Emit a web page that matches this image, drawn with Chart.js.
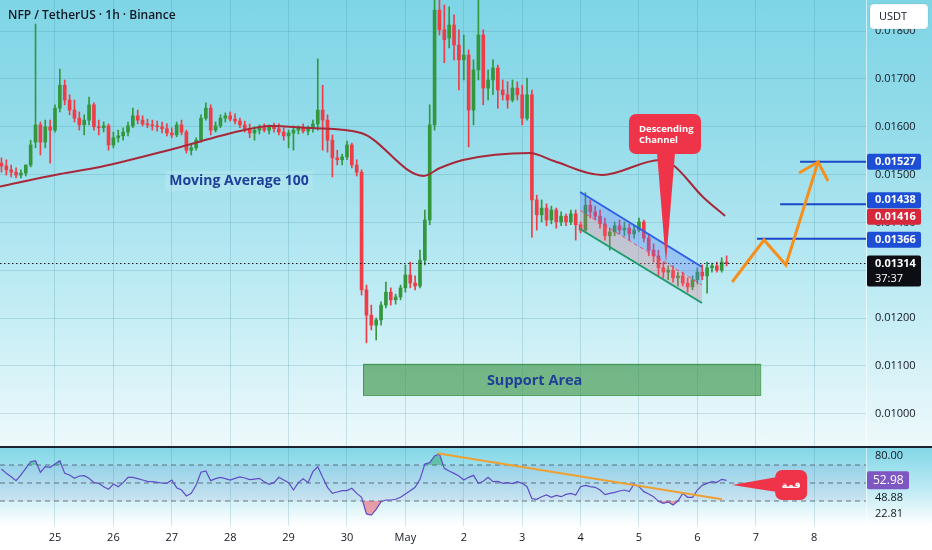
<!DOCTYPE html>
<html>
<head>
<meta charset="utf-8">
<title>NFP / TetherUS 1h</title>
<script src="https://cdn.jsdelivr.net/npm/chart.js@4.4.1/dist/chart.umd.min.js"></script>
<style>
  html, body { margin: 0; padding: 0; background: #ffffff; }
  #page { position: relative; width: 932px; height: 550px; overflow: hidden; }
  #pricePane { position: absolute; left: 0; top: 0; width: 932px; height: 446px;
    background: linear-gradient(180deg, #7ed5e6 0%, #95dcea 30%, #c4edf5 70%, #eef9fb 100%); }
  #rsiPane { position: absolute; left: 0; top: 446px; width: 932px; height: 104px; box-sizing: border-box;
    border-top: 2px solid #1c2230;
    background: linear-gradient(180deg, #82d7e8 0%, #bdeaf3 40%, #ffffff 76%, #ffffff 100%); }
  canvas { display: block; }
</style>
</head>
<body>
<div id="page">
  <div id="pricePane"><canvas id="priceChart" width="932" height="446"></canvas></div>
  <div id="rsiPane"><canvas id="rsiChart" width="932" height="102"></canvas></div>
</div>
<script>
Chart.defaults.font.family = "'Open Sans', 'DejaVu Sans', sans-serif";
Chart.defaults.font.size = 11;
Chart.defaults.color = '#131722';

// candles are 2h buckets, hour 0 = 25 Apr 00:00
var startHour = -22;
var stepHours = 2;

var opens = [0.01524,0.01518,0.01510,0.01505,0.01499,0.01503,0.01520,0.01568,0.01604,0.01568,
  0.01600,0.01593,0.01639,0.01687,0.01656,0.01635,0.01618,0.01604,0.01614,0.01646,
  0.01600,0.01598,0.01602,0.01562,0.01577,0.01581,0.01589,0.01602,0.01623,0.01614,
  0.01606,0.01604,0.01602,0.01600,0.01596,0.01587,0.01583,0.01604,0.01589,0.01551,
  0.01556,0.01572,0.01618,0.01639,0.01593,0.01602,0.01618,0.01623,0.01616,0.01612,
  0.01604,0.01596,0.01587,0.01593,0.01598,0.01593,0.01600,0.01596,0.01589,0.01581,
  0.01587,0.01593,0.01598,0.01591,0.01598,0.01606,0.01635,0.01614,0.01572,0.01535,
  0.01531,0.01537,0.01562,0.01520,0.01505,0.01259,0.01206,0.01185,0.01196,0.01227,
  0.01254,0.01238,0.01244,0.01263,0.01290,0.01273,0.01267,0.01321,0.01405,0.01604,
  0.01844,0.01803,0.01786,0.01813,0.01771,0.01740,0.01750,0.01635,0.01719,0.01792,
  0.01681,0.01698,0.01723,0.01677,0.01667,0.01656,0.01681,0.01667,0.01618,0.01667,
  0.01447,0.01416,0.01430,0.01405,0.01426,0.01401,0.01413,0.01401,0.01418,0.01395,
  0.01384,0.01436,0.01422,0.01413,0.01397,0.01372,0.01380,0.01393,0.01384,0.01388,
  0.01376,0.01384,0.01401,0.01367,0.01342,0.01330,0.01305,0.01296,0.01300,0.01284,
  0.01288,0.01273,0.01265,0.01280,0.01296,0.01288,0.01305,0.01309,0.01300,0.01317];
var highs = [0.01535,0.01531,0.01520,0.01514,0.01510,0.01520,0.01572,0.01815,0.01610,0.01614,
  0.01614,0.01646,0.01721,0.01698,0.01667,0.01656,0.01631,0.01625,0.01662,0.01650,
  0.01614,0.01610,0.01606,0.01589,0.01593,0.01598,0.01610,0.01639,0.01635,0.01623,
  0.01616,0.01614,0.01612,0.01610,0.01606,0.01598,0.01610,0.01614,0.01593,0.01562,
  0.01577,0.01625,0.01650,0.01646,0.01610,0.01625,0.01629,0.01631,0.01627,0.01618,
  0.01612,0.01606,0.01600,0.01604,0.01606,0.01604,0.01608,0.01606,0.01598,0.01593,
  0.01602,0.01602,0.01606,0.01602,0.01614,0.01742,0.01687,0.01625,0.01583,0.01551,
  0.01543,0.01570,0.01566,0.01531,0.01510,0.01269,0.01227,0.01200,0.01234,0.01275,
  0.01263,0.01250,0.01269,0.01311,0.01317,0.01288,0.01342,0.01426,0.01646,0.01897,
  0.01886,0.01855,0.01851,0.01834,0.01803,0.01792,0.01761,0.01740,0.01865,0.01803,
  0.01719,0.01740,0.01729,0.01698,0.01694,0.01698,0.01694,0.01687,0.01702,0.01677,
  0.01457,0.01447,0.01439,0.01434,0.01430,0.01422,0.01418,0.01426,0.01426,0.01401,
  0.01462,0.01447,0.01434,0.01426,0.01409,0.01388,0.01401,0.01405,0.01401,0.01397,
  0.01393,0.01409,0.01405,0.01376,0.01355,0.01342,0.01317,0.01309,0.01309,0.01296,
  0.01296,0.01284,0.01288,0.01305,0.01311,0.01317,0.01315,0.01317,0.01326,0.01330];
var lows = [0.01505,0.01499,0.01495,0.01493,0.01493,0.01497,0.01516,0.01556,0.01541,0.01556,
  0.01524,0.01589,0.01631,0.01646,0.01625,0.01610,0.01593,0.01583,0.01604,0.01593,
  0.01583,0.01589,0.01551,0.01556,0.01568,0.01572,0.01581,0.01598,0.01606,0.01602,
  0.01598,0.01593,0.01591,0.01587,0.01581,0.01577,0.01579,0.01583,0.01545,0.01541,
  0.01551,0.01568,0.01614,0.01583,0.01589,0.01598,0.01610,0.01612,0.01606,0.01598,
  0.01589,0.01577,0.01572,0.01585,0.01589,0.01585,0.01589,0.01583,0.01572,0.01556,
  0.01551,0.01585,0.01587,0.01583,0.01589,0.01593,0.01551,0.01547,0.01495,0.01520,
  0.01520,0.01531,0.01514,0.01497,0.01248,0.01148,0.01175,0.01154,0.01185,0.01221,
  0.01227,0.01229,0.01238,0.01254,0.01263,0.01259,0.01263,0.01311,0.01395,0.01593,
  0.01792,0.01734,0.01765,0.01740,0.01677,0.01698,0.01558,0.01604,0.01698,0.01646,
  0.01656,0.01667,0.01639,0.01656,0.01639,0.01652,0.01656,0.01604,0.01614,0.01369,
  0.01384,0.01401,0.01393,0.01397,0.01388,0.01393,0.01393,0.01395,0.01363,0.01378,
  0.01380,0.01409,0.01405,0.01388,0.01363,0.01342,0.01372,0.01376,0.01372,0.01363,
  0.01367,0.01380,0.01359,0.01330,0.01317,0.01288,0.01284,0.01280,0.01275,0.01267,
  0.01267,0.01254,0.01259,0.01271,0.01280,0.01252,0.01296,0.01296,0.01296,0.01309];
var closes = [0.01518,0.01510,0.01505,0.01499,0.01503,0.01520,0.01562,0.01604,0.01568,0.01600,
  0.01593,0.01639,0.01687,0.01656,0.01635,0.01618,0.01604,0.01614,0.01646,0.01600,
  0.01598,0.01602,0.01562,0.01577,0.01581,0.01589,0.01602,0.01623,0.01614,0.01606,
  0.01604,0.01602,0.01600,0.01596,0.01587,0.01583,0.01604,0.01589,0.01551,0.01556,
  0.01572,0.01618,0.01639,0.01593,0.01602,0.01618,0.01623,0.01616,0.01612,0.01604,
  0.01596,0.01587,0.01593,0.01598,0.01593,0.01600,0.01596,0.01589,0.01581,0.01587,
  0.01593,0.01598,0.01591,0.01598,0.01606,0.01635,0.01614,0.01572,0.01535,0.01531,
  0.01537,0.01562,0.01520,0.01505,0.01259,0.01206,0.01185,0.01196,0.01227,0.01254,
  0.01238,0.01244,0.01263,0.01290,0.01273,0.01267,0.01321,0.01405,0.01604,0.01844,
  0.01803,0.01782,0.01813,0.01771,0.01740,0.01750,0.01635,0.01719,0.01792,0.01681,
  0.01698,0.01723,0.01677,0.01667,0.01656,0.01681,0.01667,0.01618,0.01667,0.01447,
  0.01416,0.01430,0.01405,0.01426,0.01401,0.01413,0.01401,0.01418,0.01395,0.01384,
  0.01436,0.01422,0.01413,0.01397,0.01372,0.01380,0.01393,0.01384,0.01388,0.01376,
  0.01384,0.01401,0.01367,0.01342,0.01330,0.01305,0.01296,0.01300,0.01284,0.01288,
  0.01273,0.01265,0.01280,0.01296,0.01288,0.01305,0.01309,0.01300,0.01317,0.01314];

var rsiValues = [65.6,60.7,57,52.6,59,66.3,73.7,74.8,61.9,68.1,
  67.4,71.1,74.8,60.7,58.9,55.2,57.8,58.1,55.2,50.4,
  49.6,45.9,43,48.9,45.9,50.4,56.3,56.3,54.8,53.3,
  51.9,51.5,50.7,50,49.6,53.3,44.8,42.2,35.6,38.5,
  47.8,61.9,63.3,52.6,54.8,56.3,54.8,53.3,55.2,56.7,
  55.6,53.7,54.4,55.2,51.5,48.5,50.4,56.3,53.3,50.4,
  42.2,50.4,54.8,50.4,62.6,68.1,56.3,45.2,38.5,40,
  41.5,41.5,44.1,38.5,34.1,15.6,14.4,20.7,29.3,31.1,
  31.1,31.9,34.1,37.8,41.5,45.2,54.1,71.1,72.6,80,
  82.2,66.3,63.3,60.7,57.8,53.3,56.3,58.5,49.6,51.9,
  56.3,51.5,51.9,49.6,50.4,49.3,51.5,49.6,45.9,32.6,
  31.9,34.8,36.7,34.1,36.3,34.8,37.4,38.5,36.7,45.9,
  47.4,45.9,45.2,42.2,37,38.5,39.6,41.1,42.2,40.4,
  48.9,45.9,40.4,37.8,34.8,29.6,27.4,28.9,25.6,30,
  38.5,34.1,34.1,42.2,47.4,49.6,51.5,50.7,54.1,52.98];

// moving average 100
var maHours = [-22.6, 2.1, 18.5, 48.5, 76, 88.4, 104.8, 125.8, 151.5, 158.2, 167.7, 195.2, 205, 224.8, 248.7, 254, 266.3, 275.4];
var maValues = [0.014753, 0.015013, 0.015159, 0.015536, 0.015912, 0.016017, 0.015975, 0.015871, 0.014971, 0.015138, 0.015306, 0.015452, 0.015285, 0.014992, 0.015306, 0.015201, 0.014532, 0.014134];

var dayTicks = [0, 24, 48, 72, 96, 120, 144, 168, 192, 216, 240, 264, 288, 312];
var dayLabels = ['25', '26', '27', '28', '29', '30', 'May', '2', '3', '4', '5', '6', '7', '8'];
var priceTicks = [0.010, 0.011, 0.012, 0.013, 0.014, 0.015, 0.016, 0.017, 0.018];
var rsiTicks = [80, 33.3, 15.6];
var rsiTickLabels = ['80.00', '48.88', '22.81'];
var rsiBands = [70, 50, 30];

var channelHours = [215.8, 265.9];
var channelUpper = [0.014636, 0.013067];
var channelMiddle = [0.014249, 0.012690];
var channelLower = [0.013862, 0.012314];

var pathHours = [278.3, 291.4, 300.4, 313.6];
var pathPrices = [0.012753, 0.013632, 0.013109, 0.015264];
var headHours = [305.8, 313.6, 317.7];
var headPrices = [0.015034, 0.015264, 0.014866];

var targetPrices = [0.01527, 0.01438, 0.01366];
var targetStartHours = [306.2, 298, 288.5];

var supportHours = [126.6, 289.8];
var supportPrices = [0.01039, 0.01104];

var lastPrice = 0.01314;
var badgePrices = [0.01527, 0.01438, 0.01416, 0.01366];
var badgeColors = ['#1c4fd6', '#1c4fd6', '#d7283b', '#1c4fd6'];
var badgeNudge = [0, -4, 2, 1];

var rsiTrendHours = [157, 274.1];
var rsiTrendValues = [83, 31.9];

var xMin = -22.6, xMax = 333.3;
var priceMin = 0.0093222, priceMax = 0.0186527;
var gridColor = 'rgba(60,140,160,0.22)';
var up = '#33973e', down = '#f03c47';

function pts(xs, ys) {
  return xs.map(function(x, i) { return { x: x, y: ys[i] }; });
}
var candleHours = opens.map(function(o, i) { return startHour + i * stepHours; });
var candleColors = opens.map(function(o, i) { return closes[i] >= o ? up : down; });

function rounded(ctx, x, y, w, h, r) {
  ctx.beginPath();
  ctx.moveTo(x + r, y);
  ctx.arcTo(x + w, y, x + w, y + h, r);
  ctx.arcTo(x + w, y + h, x, y + h, r);
  ctx.arcTo(x, y + h, x, y, r);
  ctx.arcTo(x, y, x + w, y, r);
  ctx.closePath();
}

function callout(ctx, tx, ty, box, base, lines, font, lineGap) {
  ctx.fillStyle = '#ef3348';
  rounded(ctx, tx + box[0], ty + box[2], box[1] - box[0], box[3] - box[2], 7);
  ctx.fill();
  ctx.beginPath();
  ctx.moveTo(tx, ty);
  ctx.lineTo(tx + base[0], ty + base[1]);
  ctx.lineTo(tx + base[2], ty + base[3]);
  ctx.closePath();
  ctx.fill();
  ctx.fillStyle = '#ffffff';
  ctx.font = font;
  ctx.textBaseline = 'middle';
  lines.forEach(function(l, i) {
    ctx.textAlign = l[2] || 'left';
    ctx.fillText(l[0], tx + l[1], ty + lineGap[i]);
  });
}

var priceDecor = {
  id: 'priceDecor',
  beforeDatasetsDraw: function(chart) {
    var ctx = chart.ctx, x = chart.scales.x, y = chart.scales.y;
    var x0 = x.getPixelForValue(supportHours[0]), x1 = x.getPixelForValue(supportHours[1]);
    var y0 = y.getPixelForValue(supportPrices[1]), y1 = y.getPixelForValue(supportPrices[0]);
    ctx.save();
    ctx.fillStyle = 'rgba(55,145,65,0.62)';
    ctx.fillRect(x0, y0, x1 - x0, y1 - y0);
    ctx.strokeStyle = 'rgba(60,150,70,0.9)';
    ctx.lineWidth = 1;
    ctx.strokeRect(x0 + 0.5, y0 + 0.5, x1 - x0, y1 - y0);
    ctx.font = "bold 14.5px 'Open Sans', sans-serif";
    ctx.fillStyle = '#1f3f98';
    ctx.textAlign = 'center';
    ctx.textBaseline = 'middle';
    ctx.fillText('Support Area', x.getPixelForValue(197.1), (y0 + y1) / 2 + 1);
    ctx.restore();
  },
  afterDatasetsDraw: function(chart) {
    var ctx = chart.ctx, x = chart.scales.x, y = chart.scales.y;
    ctx.save();
    // MA label
    var mx = x.getPixelForValue(75.6), my = y.getPixelForValue(0.014866);
    ctx.font = "bold 14px 'Open Sans', sans-serif";
    var w = ctx.measureText('Moving Average 100').width;
    ctx.fillStyle = 'rgba(255,255,255,0.14)';
    ctx.fillRect(mx - w / 2 - 4, my - 10, w + 8, 20);
    ctx.fillStyle = '#1f3f98';
    ctx.textAlign = 'center';
    ctx.textBaseline = 'middle';
    ctx.fillText('Moving Average 100', mx, my);
    // title
    ctx.font = "600 12px 'Open Sans', sans-serif";
    ctx.fillStyle = '#131722';
    ctx.textAlign = 'left';
    ctx.fillText('NFP / TetherUS \u00b7 1h \u00b7 Binance', 8, 16);
    // descending channel callout
    callout(ctx, x.getPixelForValue(251.1), y.getPixelForValue(0.013151),
      [-37, 35, -149, -109], [-9, -110, 9, -110],
      [['Descending', -27], ['Channel', -27]], "bold 9.5px 'Open Sans', sans-serif", [-134, -123]);
    ctx.restore();
  },
  afterDraw: function(chart) {
    var ctx = chart.ctx, y = chart.scales.y;
    var ax = chart.chartArea.right + 1;
    ctx.save();
    ctx.textBaseline = 'middle';
    ctx.textAlign = 'left';
    badgePrices.forEach(function(p, i) {
      var cy = y.getPixelForValue(p) + badgeNudge[i];
      ctx.fillStyle = badgeColors[i];
      rounded(ctx, ax, cy - 8, 54, 16, 2);
      ctx.fill();
      ctx.fillStyle = '#ffffff';
      ctx.font = "bold 11px 'Open Sans', sans-serif";
      ctx.fillText(p.toFixed(5), ax + 8, cy);
    });
    var ly = y.getPixelForValue(lastPrice);
    ctx.fillStyle = '#0c0e13';
    rounded(ctx, ax, ly - 8, 54, 31, 2);
    ctx.fill();
    ctx.fillStyle = '#ffffff';
    ctx.font = "bold 11px 'Open Sans', sans-serif";
    ctx.fillText(lastPrice.toFixed(5), ax + 8, ly);
    ctx.font = "11px 'Open Sans', sans-serif";
    ctx.fillText('37:37', ax + 8, ly + 15);
    // currency box
    ctx.fillStyle = '#ffffff';
    rounded(ctx, 870, 4, 58, 25, 4);
    ctx.fill();
    ctx.strokeStyle = 'rgba(0,0,0,0.08)';
    ctx.stroke();
    ctx.fillStyle = '#131722';
    ctx.font = "11px 'Open Sans', sans-serif";
    ctx.fillText('USDT', 879, 16.5);
    ctx.restore();
  }
};

var rsiDecor = {
  id: 'rsiDecor',
  afterDraw: function(chart) {
    var ctx = chart.ctx, x = chart.scales.x, y = chart.scales.y;
    var last = rsiValues[rsiValues.length - 1];
    var cy = y.getPixelForValue(last);
    var ax = chart.chartArea.right + 1;
    ctx.save();
    ctx.fillStyle = '#7e57c2';
    rounded(ctx, ax, cy - 9, 42, 18, 2);
    ctx.fill();
    ctx.fillStyle = '#ffffff';
    ctx.font = "12px 'Open Sans', sans-serif";
    ctx.textBaseline = 'middle';
    ctx.textAlign = 'left';
    ctx.fillText(last.toFixed(2), ax + 6, cy);
    callout(ctx, x.getPixelForValue(278.3), y.getPixelForValue(47.8),
      [43, 75, -15, 15], [45, -8, 45, 7],
      [['\u0642\u0645\u0629', 59, 'center']], "bold 10px 'DejaVu Sans', sans-serif", [0]);
    ctx.restore();
  }
};

function lineSet(data, color, width, extra) {
  var d = { type: 'line', data: data, borderColor: color, borderWidth: width, pointRadius: 0, fill: false, order: 0 };
  for (var k in extra) d[k] = extra[k];
  return d;
}

var priceSets = [
  lineSet(pts(channelHours, channelUpper), '#2e5fe6', 2, { order: 1 }),
  lineSet(pts(channelHours, channelMiddle), 'rgba(235,60,80,0.8)', 1, { order: 1, borderDash: [4, 3], fill: '-1', backgroundColor: 'rgba(90,120,245,0.32)' }),
  lineSet(pts(channelHours, channelLower), '#1f9a6a', 2, { order: 1, fill: '-1', backgroundColor: 'rgba(235,110,130,0.28)' }),
  lineSet(pts(pathHours, pathPrices), '#f5901e', 3, { borderJoinStyle: 'miter' }),
  lineSet(pts(headHours, headPrices), '#f5901e', 3, { borderJoinStyle: 'miter' })
];
targetPrices.forEach(function(p, i) {
  priceSets.push(lineSet(pts([targetStartHours[i], xMax], [p, p]), '#1a47c8', 2, {}));
});
priceSets.push(lineSet(pts([xMin, xMax], [lastPrice, lastPrice]), '#1b1f2a', 1, { order: 2, borderDash: [1.5, 2.5] }));
priceSets.push(lineSet(pts(maHours, maValues), '#a8283a', 2, { order: 3, cubicInterpolationMode: 'monotone' }));
priceSets.push({
  type: 'bar', order: 4, grouped: false, barThickness: 3, minBarLength: 1,
  data: candleHours.map(function(h, i) { return { x: h, y: [opens[i], closes[i]] }; }),
  backgroundColor: candleColors, borderWidth: 0
});
priceSets.push({
  type: 'bar', order: 5, grouped: false, barThickness: 1,
  data: candleHours.map(function(h, i) { return { x: h, y: [lows[i], highs[i]] }; }),
  backgroundColor: candleColors, borderWidth: 0
});

new Chart(document.getElementById('priceChart'), {
  type: 'bar',
  data: { datasets: priceSets },
  options: {
    responsive: false, animation: false, events: [],
    layout: { padding: 0 },
    plugins: { legend: { display: false }, tooltip: { enabled: false } },
    scales: {
      x: {
        type: 'linear', min: xMin, max: xMax, offset: false,
        grid: { color: gridColor, offset: false, drawTicks: false },
        border: { display: false },
        ticks: { display: false },
        afterBuildTicks: function(s) { s.ticks = dayTicks.map(function(v) { return { value: v }; }); },
        afterFit: function(s) { s.height = 0; s.paddingLeft = 0; s.paddingRight = 0; }
      },
      y: {
        position: 'right', min: priceMin, max: priceMax,
        grid: { color: gridColor, drawTicks: false },
        border: { display: true, color: 'rgba(255,255,255,0.6)' },
        ticks: { padding: 9, callback: function(v) { return v.toFixed(5); } },
        afterBuildTicks: function(s) { s.ticks = priceTicks.map(function(v) { return { value: v }; }); },
        afterFit: function(s) { s.width = 66; s.paddingTop = 0; s.paddingBottom = 0; }
      }
    }
  },
  plugins: [priceDecor]
});

var rsiPoints = pts(candleHours, rsiValues);
var rsiSets = [
  lineSet(pts(rsiTrendHours, rsiTrendValues), '#eea033', 2, {}),
  lineSet(rsiPoints, '#5f4cc4', 1.2, { order: 1, fill: { target: { value: 30 }, above: 'rgba(0,0,0,0)', below: 'rgba(242,54,69,0.45)' } }),
  lineSet(rsiPoints, 'rgba(0,0,0,0)', 0, { order: 1, fill: { target: { value: 70 }, above: 'rgba(30,160,90,0.45)', below: 'rgba(0,0,0,0)' } })
];
rsiBands.forEach(function(b) {
  rsiSets.push(lineSet(pts([xMin, xMax], [b, b]), 'rgba(70,75,90,0.75)', 1, { order: 2, borderDash: [5, 4] }));
});
rsiSets.push(lineSet(pts([xMin, xMax], [rsiBands[2], rsiBands[2]]), 'rgba(0,0,0,0)', 0,
  { order: 3, fill: { target: { value: rsiBands[0] } }, backgroundColor: 'rgba(126,87,194,0.09)' }));

new Chart(document.getElementById('rsiChart'), {
  type: 'line',
  data: { datasets: rsiSets },
  options: {
    responsive: false, animation: false, events: [],
    layout: { padding: 0 },
    plugins: { legend: { display: false }, tooltip: { enabled: false } },
    scales: {
      x: {
        type: 'linear', min: xMin, max: xMax,
        grid: { color: gridColor, drawTicks: false },
        border: { display: false },
        ticks: { padding: 5, autoSkip: false, maxRotation: 0,
          callback: function(v, i) { return dayLabels[i]; } },
        afterBuildTicks: function(s) { s.ticks = dayTicks.map(function(v) { return { value: v }; }); },
        afterFit: function(s) { s.height = 24; s.paddingLeft = 0; s.paddingRight = 0; }
      },
      y: {
        position: 'right', min: 2.22, max: 88.89,
        grid: { display: false, drawTicks: false },
        border: { display: true, color: 'rgba(255,255,255,0.6)' },
        ticks: { padding: 9, callback: function(v, i) { return rsiTickLabels[i]; } },
        afterBuildTicks: function(s) { s.ticks = rsiTicks.map(function(v) { return { value: v }; }); },
        afterFit: function(s) { s.width = 66; s.paddingTop = 0; s.paddingBottom = 0; }
      }
    }
  },
  plugins: [rsiDecor]
});
</script>
</body>
</html>
